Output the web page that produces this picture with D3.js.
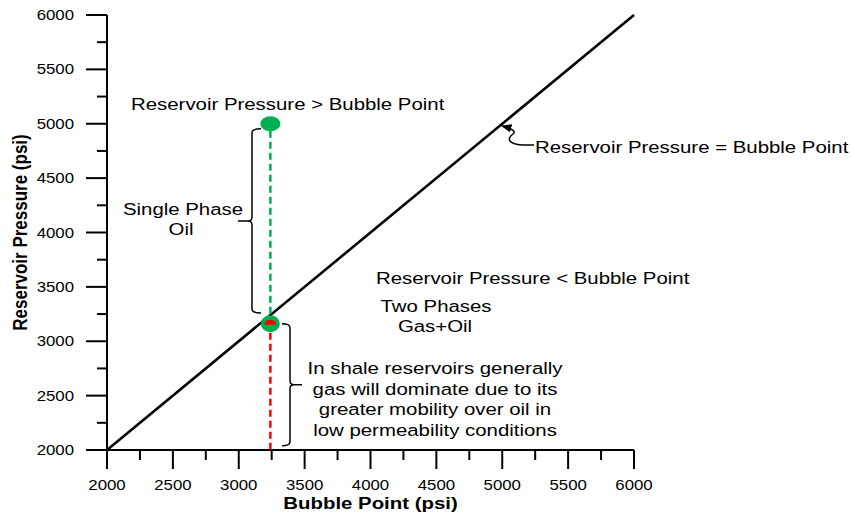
<!DOCTYPE html>
<html>
<head>
<meta charset="utf-8">
<script src="https://cdn.jsdelivr.net/npm/d3@7"></script>
<style>
  body { margin: 0; background: #fff; }
  svg text { font-family: "Liberation Sans", Arial, sans-serif; fill: #000; }
</style>
</head>
<body>
<figure id="phase-chart" style="margin:0"></figure>
<script>
// chart values
const axisDomain = [2000, 6000];
const majorTicks = [2000, 2500, 3000, 3500, 4000, 4500, 5000, 5500, 6000];
const minorTicks = [2250, 2750, 3250, 3750, 4250, 4750, 5250, 5750];
const equalityLine = [2000, 6000];          // reservoir pressure = bubble point
const singlePhasePoint = { bubble: 3240, pressure: 5000 };
const twoPhasePoint = { bubble: 3240, pressure: 3160 };

const width = 851, height = 514;
const sx = 1.2; // the picture is a bit wider than tall

const svg = d3.select('figure#phase-chart')
  .append('svg')
  .attr('width', width)
  .attr('height', height);

const x = d3.scaleLinear().domain(axisDomain).range([107, 634]);
const y = d3.scaleLinear().domain(axisDomain).range([450, 15]);

// text helper, stretched horizontally like the source
function label(txt, px, py, opts = {}) {
  const t = svg.append('text')
    .attr('transform', `translate(${px},${py}) scale(${sx},1)` + (opts.rotate ? ` rotate(${opts.rotate})` : ''))
    .attr('text-anchor', opts.anchor || 'start')
    .style('font-size', (opts.size || 17) + 'px')
    .style('font-weight', opts.bold ? 'bold' : 'normal')
    .text(txt);
  if (opts.dy) t.attr('dy', opts.dy);
  return t;
}

// axes
const axisG = svg.append('g').attr('stroke', '#000').attr('stroke-width', 2);
axisG.append('line').attr('x1', x(2000)).attr('x2', x(6000)).attr('y1', y(2000)).attr('y2', y(2000));
axisG.append('line').attr('x1', x(2000)).attr('x2', x(2000)).attr('y1', y(2000)).attr('y2', y(6000));

axisG.selectAll('.xmaj').data(majorTicks).join('line')
  .attr('x1', d => x(d)).attr('x2', d => x(d)).attr('y1', y(2000)).attr('y2', y(2000) + 19);
axisG.selectAll('.xmin').data(minorTicks).join('line')
  .attr('x1', d => x(d)).attr('x2', d => x(d)).attr('y1', y(2000)).attr('y2', y(2000) + 10);
axisG.selectAll('.ymaj').data(majorTicks).join('line')
  .attr('y1', d => y(d)).attr('y2', d => y(d)).attr('x1', x(2000)).attr('x2', x(2000) - 21);
axisG.selectAll('.ymin').data(minorTicks).join('line')
  .attr('y1', d => y(d)).attr('y2', d => y(d)).attr('x1', x(2000)).attr('x2', x(2000) - 10);

majorTicks.forEach(d => {
  label(d, x(d), 490, { size: 14, anchor: 'middle' });
  label(d, 74, y(d), { size: 14, anchor: 'end', dy: '0.36em' });
});

label('Bubble Point (psi)', (x(2000) + x(6000)) / 2, 509, { size: 17, bold: true, anchor: 'middle' });
label('Reservoir Pressure (psi)', 27, (y(2000) + y(6000)) / 2, { size: 17, bold: true, anchor: 'middle', rotate: -90 });

// equality line
svg.append('line')
  .attr('x1', x(equalityLine[0])).attr('y1', y(equalityLine[0]))
  .attr('x2', x(equalityLine[1])).attr('y2', y(equalityLine[1]))
  .attr('stroke', '#000').attr('stroke-width', 2.6);

// dashed drops
svg.append('line')
  .attr('x1', x(singlePhasePoint.bubble)).attr('x2', x(twoPhasePoint.bubble))
  .attr('y1', y(singlePhasePoint.pressure) + 7).attr('y2', y(twoPhasePoint.pressure) - 8)
  .attr('stroke', '#00b050').attr('stroke-width', 2.5).attr('stroke-dasharray', '7,4');
svg.append('line')
  .attr('x1', x(twoPhasePoint.bubble)).attr('x2', x(twoPhasePoint.bubble))
  .attr('y1', y(twoPhasePoint.pressure) + 9).attr('y2', y(2000))
  .attr('stroke', '#ff0000').attr('stroke-width', 2.5).attr('stroke-dasharray', '7,4');

// points
svg.append('ellipse')
  .attr('cx', x(singlePhasePoint.bubble)).attr('cy', y(singlePhasePoint.pressure))
  .attr('rx', 10).attr('ry', 7.5).attr('fill', '#00b050');
svg.append('ellipse')
  .attr('cx', x(twoPhasePoint.bubble)).attr('cy', y(twoPhasePoint.pressure))
  .attr('rx', 9.5).attr('ry', 8.5).attr('fill', '#00b050');
{
  const cx = x(twoPhasePoint.bubble), cy = y(twoPhasePoint.pressure) + 1;
  svg.append('path')
    .attr('d', `M${cx - 6},${cy} A6,5 0 0 1 ${cx + 6},${cy} Z`)
    .attr('fill', '#ff0000');
}

// curly braces
function brace(xs, y1, y2, dir, hook, tip) {
  // dir = -1: tip to the left, ends open to the right
  const ym = (y1 + y2) / 2, r = 4;
  const p = d3.path();
  p.moveTo(xs - dir * hook, y1);
  p.quadraticCurveTo(xs, y1, xs, y1 + r);
  p.lineTo(xs, ym - r);
  p.quadraticCurveTo(xs, ym, xs + dir * r, ym);
  p.lineTo(xs + dir * tip, ym);
  p.moveTo(xs + dir * r, ym);
  p.quadraticCurveTo(xs, ym, xs, ym + r);
  p.lineTo(xs, y2 - r);
  p.quadraticCurveTo(xs, y2, xs - dir * hook, y2);
  svg.append('path').attr('d', p.toString())
    .attr('fill', 'none').attr('stroke', '#000').attr('stroke-width', 1.5);
}
brace(252, y(singlePhasePoint.pressure) + 5, y(3250) - 1, -1, 9, 14);
brace(290, y(twoPhasePoint.pressure), y(2040), 1, 8, 12);

// arrow to the equality line
svg.append('defs').append('marker')
  .attr('id', 'head').attr('viewBox', '0 0 10 10').attr('refX', 9).attr('refY', 5)
  .attr('markerWidth', 7).attr('markerHeight', 7).attr('orient', 'auto-start-reverse')
  .append('path').attr('d', 'M0,1 L10,5 L0,9 Z').attr('fill', '#000');
svg.append('path')
  .attr('d', 'M534,145 L522,145 C509,144 506,139 513,134 C517,131 510,128 502,126')
  .attr('fill', 'none').attr('stroke', '#000').attr('stroke-width', 1.5)
  .attr('marker-end', 'url(#head)');

// annotations
label('Reservoir Pressure > Bubble Point', 131, 110);
label('Reservoir Pressure = Bubble Point', 535, 153);
label('Reservoir Pressure < Bubble Point', 376, 284);
label('Single Phase', 183, 215, { anchor: 'middle' });
label('Oil', 181, 235, { anchor: 'middle' });
label('Two Phases', 436, 312, { anchor: 'middle' });
label('Gas+Oil', 435, 332, { anchor: 'middle' });
['In shale reservoirs generally', 'gas will dominate due to its',
 'greater mobility over oil in', 'low permeability conditions']
  .forEach((t, i) => label(t, 435, 374 + i * 20.7, { anchor: 'middle' }));
</script>
</body>
</html>
